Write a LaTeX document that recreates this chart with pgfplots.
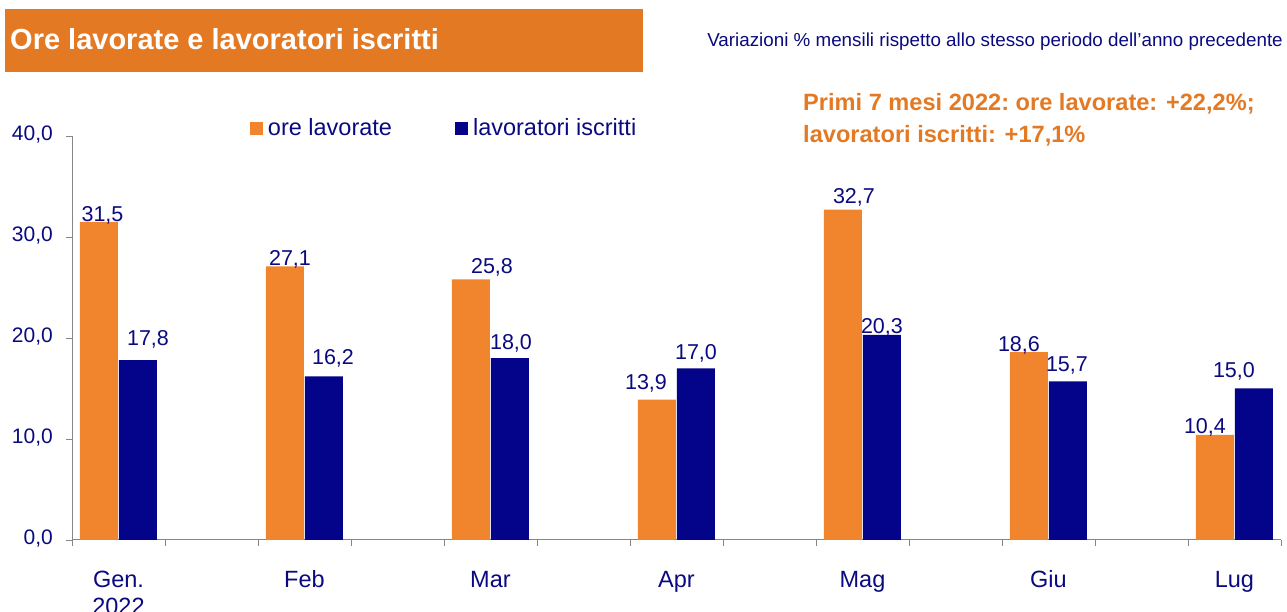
\documentclass[border=0pt]{standalone}
\usepackage{pgfplots}
\pgfplotsset{compat=1.18}
\usepackage{pgfplotstable}
\usepackage{fontspec}
\setmainfont{Liberation Sans}
\definecolor{barorange}{RGB}{240,133,46}
\definecolor{titleorange}{RGB}{228,121,36}
\definecolor{barnavy}{RGB}{4,4,138}
\definecolor{txtnavy}{RGB}{10,10,128}
\definecolor{axgray}{RGB}{134,134,134}

\pgfplotstableread{
x y dx dy
0 31.5 3.5 0
1 27.1 5 1
2 25.8 21 6
3 13.9 -11 10
4 32.7 11 6
5 18.6 -10 1
6 10.4 -10 1
}\ore
\pgfplotstableread{
x y dx dy
0 17.8 10 15
1 16.2 9 12
2 18.0 1 9
3 17.0 0 9
4 20.3 0 1
5 15.7 -1 10
6 15.0 -20 11
}\lav

\pgfkeys{/pgf/number format/.cd,fixed,fixed zerofill,precision=1,use comma,assume math mode=true}

\begin{document}
\begin{tikzpicture}[x=1pt,y=1pt]
\fill[titleorange] (5,540) rectangle (643,603);
\node[anchor=base west, inner sep=0pt, text=white, font=\fontsize{29}{34}\selectfont\bfseries] at (10,562) {Ore lavorate e lavoratori iscritti};
\node[anchor=base east, inner sep=0pt, text=txtnavy, font=\fontsize{18.8}{22}\selectfont] at (1283,565) {Variazioni \% mensili rispetto allo stesso periodo dell'anno precedente};
\node[anchor=base west, inner sep=0pt, text=titleorange, font=\fontsize{23.6}{27}\selectfont\bfseries] at (803,501) {Primi 7 mesi 2022:\ ore lavorate: +22,2\%;};
\node[anchor=base west, inner sep=0pt, text=titleorange, font=\fontsize{23.6}{27}\selectfont\bfseries] at (803,469) {lavoratori iscritti: +17,1\%};

\begin{axis}[
  at={(72pt,72pt)}, anchor=south west,
  scale only axis, width=1209pt, height=404pt,
  xmin=-0.25, xmax=6.25, ymin=0, ymax=40,
  axis x line=bottom, axis y line=left,
  axis line style={-, draw=axgray, line width=1pt},
  tick align=outside, major tick length=6pt,
  tick style={draw=axgray, line width=0.8pt},
  ytick={0,10,20,30,40},
  yticklabel style={inner sep=0pt, xshift=-13pt, text=txtnavy, font=\fontsize{21}{25}\selectfont},
  xtick={-0.25,0.25,...,6.3},
  xticklabels={},
  extra x ticks={0,1,2,3,4,5,6},
  extra x tick labels={{Gen.\\2022},Feb,Mar,Apr,Mag,Giu,Lug},
  extra x tick style={major tick length=0pt},
  typeset ticklabels with strut,
  xticklabel style={anchor=north, inner sep=0pt, yshift=-28pt, align=center, text=txtnavy, font=\fontsize{23.5}{27.5}\selectfont},
  ybar=1pt, bar width=38pt,
  nodes near coords,
  visualization depends on=\thisrow{dx}\as\labdx,
  visualization depends on=\thisrow{dy}\as\labdy,
  every node near coord/.append style={anchor=base, inner sep=0pt, xshift=\labdx pt, yshift=\labdy pt, text=txtnavy, font=\fontsize{21.5}{25}\selectfont},
  legend columns=2,
  legend style={at={(0.1472,0.9926)}, anchor=south west, draw=none, fill=none, inner sep=0pt, outer sep=0pt, column sep=3pt, font=\fontsize{23.5}{28}\selectfont, text=txtnavy, /tikz/every even column/.append style={column sep=61pt}},
  legend image code/.code={\fill[#1] (0pt,-7pt) rectangle (13pt,6pt);},
  clip=false,
]
\addplot[fill=barorange, draw=none] table[x=x,y=y] {\ore};
\addplot[fill=barnavy, draw=none] table[x=x,y=y] {\lav};
\legend{ore lavorate, lavoratori iscritti}
\end{axis}
\pgfresetboundingbox
\path[use as bounding box] (0,0) rectangle (1287,612);
\end{tikzpicture}
\end{document}
